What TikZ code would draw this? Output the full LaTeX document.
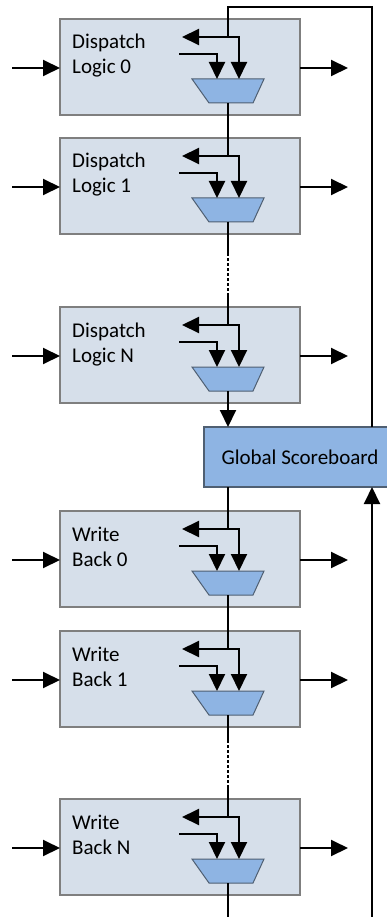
\documentclass[tikz,border=0pt]{standalone}
\usepackage{fontspec}
\setmainfont{Carlito}
\usetikzlibrary{arrows.meta}
\definecolor{stagefill}{HTML}{D6DFEA}
\definecolor{stageline}{HTML}{7F7F7F}
\definecolor{muxfill}{HTML}{8EB4E3}
\definecolor{muxline}{HTML}{4F5F72}
\tikzset{
  wire/.style={line width=2pt, draw=black},
  tip/.style={-{Triangle[length=17pt,width=16pt]}},
  gap/.style={wire, dash pattern=on 3pt off 2pt},
  stagebox/.style={draw=stageline, fill=stagefill, line width=1.5pt,
    anchor=north west, minimum width=240pt, minimum height=96pt,
    inner sep=0pt, outer sep=0pt},
  stagetext/.style={anchor=base west, align=left, inner sep=0pt,
    font=\fontsize{21}{25}\selectfont},
  muxshape/.style={draw=muxline, fill=muxfill, line width=1pt, line join=miter},
  board/.style={draw=muxline, fill=muxfill, line width=1.5pt,
    minimum width=192pt, minimum height=60pt, inner sep=0pt, outer sep=0pt,
    font=\fontsize{21}{25}\selectfont}
}
% one pipeline stage: box, label, mux and its local arrows
% #1 name, #2 top edge, #3 first line, #4 second line
\newcommand\pipestage[4]{%
  \node[stagebox] (#1) at (60,#2) {};
  \node[stagetext] (#1-txt) at (72,#2+55) {#3\\#4};
  \coordinate (#1-br) at (228,#2+18);
  \coordinate (#1-l) at (182,#2+18);
  \coordinate (#1-b) at (239,#2+60);
  \coordinate (#1-ms) at (179,#2+35);
  \coordinate (#1-a) at (217,#2+60);
  \coordinate (#1-out) at (228,#2+84);
  \coordinate (#1-in) at (12,#2+49);
  \coordinate (#1-o) at (348,#2+49);
  \draw[muxshape] (192,#2+60) -- (264,#2+60) -- (253,#2+84) -- (209,#2+84) -- cycle;
  \draw[wire,tip] (#1-br) -- (#1-l);
  \draw[wire,tip] (#1-br) -| (#1-b);
  \draw[wire,tip] (#1-ms) -| (#1-a);
  \draw[wire,tip] (#1-in) -- (#1-in -| #1.west);
  \draw[wire,tip] (#1-o -| #1.east) -- (#1-o);
}
\begin{document}
\begin{tikzpicture}[x=1pt,y=-1pt]
  \useasboundingbox (0,0) rectangle (386,917);

  \pipestage{d0}{19}{Dispatch}{Logic 0}
  \pipestage{d1}{138}{Dispatch}{Logic 1}
  \pipestage{dn}{307}{Dispatch}{Logic N}

  \node[board] (sb) at (300,457) {Global Scoreboard};

  \pipestage{w0}{511}{Write}{Back 0}
  \pipestage{w1}{631}{Write}{Back 1}
  \pipestage{wn}{799}{Write}{Back N}

  % feedback from the scoreboard to the first dispatch stage
  \coordinate (loop) at (372,7);
  \draw[wire] (sb.north -| loop) -- (loop) -- (loop -| d0-br) -- (d0-br);

  % dispatch chain
  \draw[wire] (d0-out) -- (d1-br);
  \draw[wire] (d1-out) -- ++(0,31) coordinate (dg1);
  \draw[gap] (dg1) -- ++(0,42) coordinate (dg2);
  \draw[wire] (dg2) -- (dn-br);
  \draw[wire,tip] (dn-out) -- (dn-out |- sb.north);

  % write-back chain
  \draw[wire] (w0-br |- sb.south) -- (w0-br);
  \draw[wire] (w0-out) -- (w1-br);
  \draw[wire] (w1-out) -- ++(0,25) coordinate (wg1);
  \draw[gap] (wg1) -- ++(0,48) coordinate (wg2);
  \draw[wire] (wg2) -- (wn-br);
  \coordinate (wend) at (228,917);
  \draw[wire] (wn-out) -- (wend);

  % return path into the scoreboard
  \coordinate (ret) at (372,917);
  \draw[wire,tip] (ret) -- (ret |- sb.south);
\end{tikzpicture}
\end{document}
